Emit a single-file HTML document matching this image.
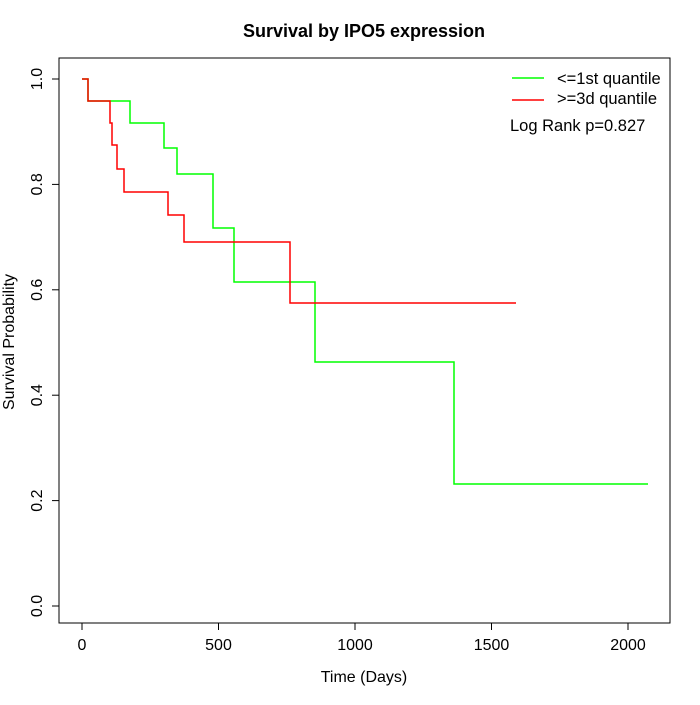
<!DOCTYPE html>
<html><head><style>body{margin:0;background:#fff}</style></head><body>
<svg width="700" height="700" xmlns="http://www.w3.org/2000/svg" font-family="Liberation Sans, sans-serif">
<rect width="700" height="700" fill="#fff"/>
<text x="364" y="37" text-anchor="middle" font-size="18" font-weight="bold">Survival by IPO5 expression</text>
<rect x="59" y="58" width="611" height="565" fill="none" stroke="#000"/>
<g stroke="#000">
<line x1="82" y1="623" x2="628" y2="623"/>
<line x1="82" y1="623" x2="82" y2="630"/><line x1="218.5" y1="623" x2="218.5" y2="630"/><line x1="355" y1="623" x2="355" y2="630"/><line x1="491.5" y1="623" x2="491.5" y2="630"/><line x1="628" y1="623" x2="628" y2="630"/>
<line x1="59" y1="79" x2="59" y2="606"/>
<line x1="52" y1="606" x2="59" y2="606"/><line x1="52" y1="500.6" x2="59" y2="500.6"/><line x1="52" y1="395.2" x2="59" y2="395.2"/><line x1="52" y1="289.8" x2="59" y2="289.8"/><line x1="52" y1="184.4" x2="59" y2="184.4"/><line x1="52" y1="79" x2="59" y2="79"/>
</g>
<g font-size="16" text-anchor="middle">
<text x="82" y="650">0</text><text x="218.5" y="650">500</text><text x="355" y="650">1000</text><text x="491.5" y="650">1500</text><text x="628" y="650">2000</text>
<text x="364" y="682">Time (Days)</text>
</g>
<g font-size="16" text-anchor="middle">
<text transform="translate(42,606) rotate(-90)">0.0</text>
<text transform="translate(42,500.6) rotate(-90)">0.2</text>
<text transform="translate(42,395.2) rotate(-90)">0.4</text>
<text transform="translate(42,289.8) rotate(-90)">0.6</text>
<text transform="translate(42,184.4) rotate(-90)">0.8</text>
<text transform="translate(42,79) rotate(-90)">1.0</text>
<text transform="translate(14,342) rotate(-90)">Survival Probability</text>
</g>
<polyline fill="none" stroke="#00ff00" stroke-width="1.5" points="82,79 88,79 88,101 130,101 130,123 164,123 164,148 177,148 177,174 213,174 213,228 234,228 234,282 315,282 315,362 454,362 454,484 648,484"/>
<polyline fill="none" stroke="#ff0000" stroke-width="1.5" points="82,79 88,79 88,101 110,101 110,123 112,123 112,145 117,145 117,169 124,169 124,192 168,192 168,215 184,215 184,242 290,242 290,303 516,303"/>
<line x1="512" y1="78" x2="544" y2="78" stroke="#00ff00" stroke-width="1.5"/>
<line x1="512" y1="100" x2="544" y2="100" stroke="#ff0000" stroke-width="1.5"/>
<g font-size="16.5">
<text x="557" y="84">&lt;=1st quantile</text>
<text x="557" y="104">&gt;=3d quantile</text>
<text x="510" y="131">Log Rank p=0.827</text>
</g>
</svg>
</body></html>
